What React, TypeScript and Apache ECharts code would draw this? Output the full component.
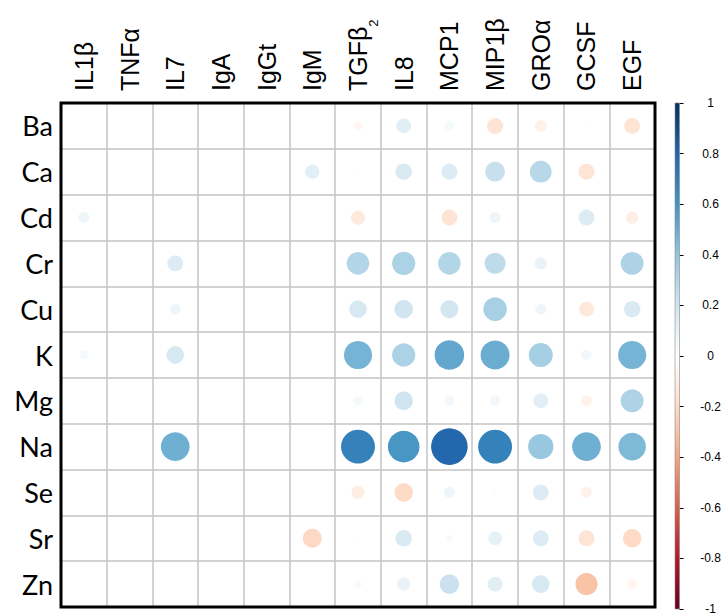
import React, { useEffect, useRef } from 'react';
import * as echarts from 'echarts';

// Column variables (cytokines) and row variables (elements)
const cytokines = ['IL1β', 'TNFα', 'IL7', 'IgA', 'IgGt', 'IgM', 'TGFβ2', 'IL8', 'MCP1', 'MIP1β', 'GROα', 'GCSF', 'EGF'];
const elements = ['Ba', 'Ca', 'Cd', 'Cr', 'Cu', 'K', 'Mg', 'Na', 'Se', 'Sr', 'Zn'];

// Correlation coefficients per element, in cytokine order (null = not shown)
const Ba = [null, null, null, null, null, null, -0.05, 0.13, 0.05, -0.15, -0.08, 0.01, -0.15];
const Ca = [null, null, null, null, null, 0.12, 0.01, 0.16, 0.15, 0.23, 0.28, -0.15, 0.005];
const Cd = [0.07, null, null, null, null, null, -0.12, 0.005, -0.15, 0.07, 0.005, 0.15, -0.09];
const Cr = [null, null, 0.15, null, null, null, 0.3, 0.32, 0.3, 0.26, 0.09, 0.005, 0.31];
const Cu = [null, null, 0.07, null, null, null, 0.18, 0.2, 0.19, 0.33, 0.07, -0.13, 0.16];
const K = [0.045, null, 0.18, null, null, null, 0.47, 0.32, 0.52, 0.5, 0.34, 0.06, 0.47];
const Mg = [null, null, null, null, null, null, 0.05, 0.2, 0.06, 0.06, 0.13, -0.07, 0.31];
const Na = [null, null, 0.49, null, null, null, 0.68, 0.59, 0.79, 0.68, 0.38, 0.49, 0.45];
const Se = [null, null, null, null, null, null, -0.1, -0.2, 0.07, 0.015, 0.15, -0.07, 0.003];
const Sr = [null, null, null, null, null, -0.21, -0.01, 0.16, 0.03, 0.11, 0.15, -0.15, -0.2];
const Zn = [null, null, null, null, null, null, 0.035, 0.1, 0.22, 0.13, 0.18, -0.29, -0.05];

const correlations = [Ba, Ca, Cd, Cr, Cu, K, Mg, Na, Se, Sr, Zn];

// Diverging red-blue palette from -1 to 1
const RdBu = ['#67001F', '#B2182B', '#D6604D', '#F4A582', '#FDDBC7', '#FFFFFF', '#D1E5F0', '#92C5DE', '#4393C3', '#2166AC', '#053061'];

// Layout
const PLOT = { left: 61, top: 103, width: 594, height: 504 };
const BAR = { left: 675, top: 103, width: 18, height: 506 };
const CELL = Math.min(PLOT.width / cytokines.length, PLOT.height / elements.length);

const hexToRgb = (h: string) => [1, 3, 5].map((i) => parseInt(h.slice(i, i + 2), 16));

function corrColor(r: number): string {
  const t = ((r + 1) / 2) * (RdBu.length - 1);
  const i = Math.max(0, Math.min(Math.floor(t), RdBu.length - 2));
  const f = t - i;
  const a = hexToRgb(RdBu[i]);
  const b = hexToRgb(RdBu[i + 1]);
  const c = a.map((v, k) => Math.round(v + (b[k] - v) * f));
  return `rgb(${c[0]},${c[1]},${c[2]})`;
}

const points: number[][] = [];
correlations.forEach((row, yi) => {
  row.forEach((v, xi) => {
    if (v !== null) points.push([xi, yi, v]);
  });
});

const sansFont = '"Liberation Sans", Arial, sans-serif';

export default function App() {
  const ref = useRef<HTMLDivElement>(null);

  useEffect(() => {
    if (!ref.current) return;
    const chart = echarts.init(ref.current, undefined, { renderer: 'svg' });

    // top of the bar = +1, bottom = -1 (offsets ascending)
    const gradientStops = RdBu.slice()
      .reverse()
      .map((c, i) => ({ offset: i / (RdBu.length - 1), color: c }));

    chart.setOption({
      animation: false,
      backgroundColor: '#ffffff',
      grid: [
        { left: PLOT.left, top: PLOT.top, width: PLOT.width, height: PLOT.height },
        { left: BAR.left, top: BAR.top, width: BAR.width, height: BAR.height },
      ],
      xAxis: [
        {
          type: 'category',
          gridIndex: 0,
          data: cytokines,
          position: 'top',
          axisLine: { show: false },
          axisTick: { show: false },
          splitLine: { show: true, interval: 0, lineStyle: { color: '#c4c4c4', width: 1.5 } },
          axisLabel: {
            interval: 0,
            rotate: -90,
            margin: 12,
            fontFamily: sansFont,
            fontSize: 25,
            color: '#000',
            formatter: (v: string) => (v === 'TGFβ2' ? '{m|TGFβ}{s|2}' : v),
            rich: {
              m: { fontFamily: sansFont, fontSize: 25, color: '#000', lineHeight: 44 },
              s: { fontFamily: sansFont, fontSize: 13, color: '#000', lineHeight: 13, verticalAlign: 'bottom' },
            },
          },
        },
        { type: 'category', gridIndex: 1, data: [''], show: false },
      ],
      yAxis: [
        {
          type: 'category',
          gridIndex: 0,
          data: elements,
          inverse: true,
          axisLine: { show: false },
          axisTick: { show: false },
          splitLine: { show: true, interval: 0, lineStyle: { color: '#c4c4c4', width: 1.5 } },
          axisLabel: { interval: 0, margin: 8, fontFamily: 'Lato, "Open Sans", sans-serif', fontSize: 27, color: '#000' },
        },
        {
          type: 'value',
          gridIndex: 1,
          min: -1,
          max: 1,
          interval: 0.2,
          position: 'right',
          axisLine: { show: false },
          axisTick: { show: true, length: 4, lineStyle: { color: '#000', width: 1 } },
          splitLine: { show: false },
          axisLabel: { margin: 31, align: 'center', fontFamily: sansFont, fontSize: 12, color: '#000' },
        },
      ],
      series: [
        {
          type: 'scatter',
          xAxisIndex: 0,
          yAxisIndex: 0,
          data: points,
          symbol: 'circle',
          symbolSize: (v: number[]) => 0.9 * Math.sqrt(Math.abs(v[2])) * CELL,
          itemStyle: { color: (p: any) => corrColor(p.value[2]), opacity: 1 },
          silent: true,
        },
        {
          type: 'custom',
          xAxisIndex: 1,
          yAxisIndex: 1,
          data: [[0, 0]],
          silent: true,
          renderItem: (_params: any, api: any) => {
            const top = api.coord([0, 1]);
            const bottom = api.coord([0, -1]);
            const w = api.size([1, 0])[0];
            return {
              type: 'rect',
              shape: { x: top[0] - w / 2, y: top[1], width: w, height: bottom[1] - top[1] },
              style: {
                fill: new echarts.graphic.LinearGradient(0, 0, 0, 1, gradientStops),
                stroke: '#8a8a8a',
                lineWidth: 0.6,
              },
            };
          },
        },
      ],
      graphic: [
        {
          type: 'rect',
          z: 100,
          silent: true,
          shape: { x: PLOT.left, y: PLOT.top, width: PLOT.width, height: PLOT.height },
          style: { fill: 'transparent', stroke: '#000', lineWidth: 3 },
        },
      ],
    });

    return () => chart.dispose();
  }, []);

  return <div ref={ref} style={{ position: 'fixed', left: 0, top: 0, width: 721, height: 616 }} />;
}
